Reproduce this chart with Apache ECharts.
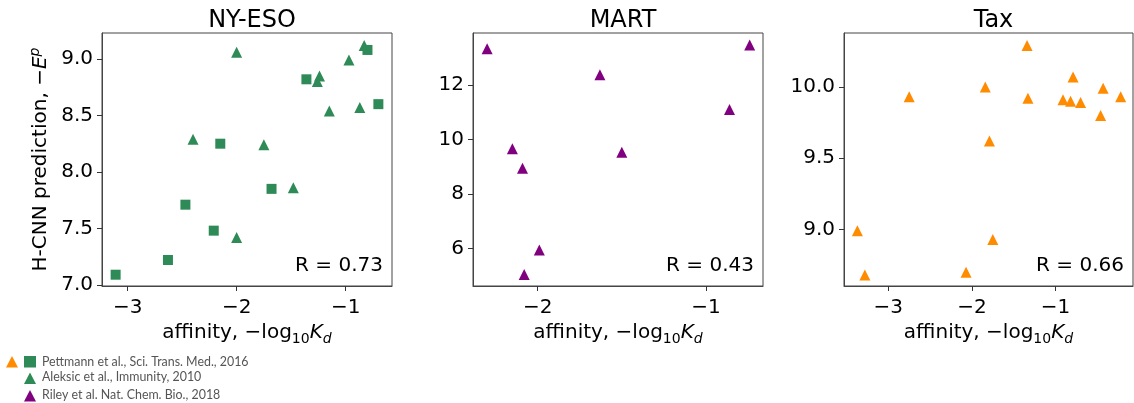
<!DOCTYPE html>
<html>
<head>
<meta charset="utf-8">
<script src="https://cdn.jsdelivr.net/npm/echarts@6/dist/echarts.min.js"></script>
<style>html,body{margin:0;padding:0;background:#fff}#c{width:1134px;height:403px}</style>
</head>
<body>
<div id="c"></div>
<script>
// ---- data ----
const titles = ['NY-ESO', 'MART', 'Tax'];
const rLabels = ['R = 0.73', 'R = 0.43', 'R = 0.66'];

const nyesoSqX  = [-3.11, -2.63, -2.47, -2.21, -2.15, -1.68, -1.36, -0.80, -0.70];
const nyesoSqY  = [7.09, 7.22, 7.71, 7.48, 8.25, 7.85, 8.82, 9.08, 8.60];
const nyesoTriX = [-2.00, -2.40, -1.75, -1.48, -2.00, -1.26, -1.24, -1.15, -0.97, -0.87, -0.83];
const nyesoTriY = [9.06, 8.29, 8.24, 7.86, 7.42, 8.80, 8.85, 8.54, 8.99, 8.57, 9.12];

const martX = [-2.30, -2.15, -2.09, -1.99, -2.08, -1.63, -1.50, -0.86, -0.74];
const martY = [13.32, 9.66, 8.94, 5.95, 5.05, 12.37, 9.53, 11.10, 13.46];

const taxX = [-3.37, -3.28, -2.75, -2.07, -1.84, -1.79, -1.75, -1.34, -1.33, -0.91, -0.82, -0.79, -0.70, -0.46, -0.43, -0.22];
const taxY = [8.99, 8.68, 9.93, 8.70, 10.00, 9.62, 8.93, 10.29, 9.92, 9.91, 9.90, 10.07, 9.89, 9.80, 9.99, 9.93];

const xTicks1 = [-3, -2, -1];
const xTicks2 = [-2, -1];
const xTicks3 = [-3, -2, -1];
const yTicks1 = [7.0, 7.5, 8.0, 8.5, 9.0];
const yTicks2 = [6, 8, 10, 12];
const yTicks3 = [9.0, 9.5, 10.0];

const legendLabels = ['Pettmann et al., Sci. Trans. Med., 2016', 'Aleksic et al., Immunity, 2010', 'Riley et al. Nat. Chem. Bio., 2018'];

const GREEN = '#2e8b57', PURPLE = '#800080', ORANGE = '#ff8c00';
const FONT = 'DejaVu Sans';

function zip(a, b) { return a.map((v, i) => [v, b[i]]); }

const grids = [
  { left: 102, top: 33, width: 290, height: 253 },
  { left: 473, top: 33, width: 290, height: 253 },
  { left: 844, top: 33, width: 289, height: 253 }
];
const xRanges = [[-3.235, -0.575], [-2.384, -0.661], [-3.53, -0.073]];
const yRanges = [[6.99, 9.23], [4.63, 13.90], [8.603, 10.378]];
const xTickSets = [xTicks1, xTicks2, xTicks3];
const yTickSets = [yTicks1, yTicks2, yTicks3];
const yDec = [1, 0, 1];

const minus = s => String(s).replace('-', '\u2212');

const xName = '{a|affinity, \u2212log}{sub|10}{i|K}{isub|d}';
const yName = '{a|H-CNN prediction, \u2212}{i|E}{sup|p}';
const richX = {
  a: { fontSize: 20, lineHeight: 26, fontFamily: FONT, color: '#000' },
  i: { fontSize: 20, lineHeight: 26, fontStyle: 'italic', fontFamily: FONT, color: '#000' },
  sub: { fontSize: 14, lineHeight: 14, verticalAlign: 'bottom', fontFamily: FONT, color: '#000' },
  isub: { fontSize: 14, lineHeight: 14, verticalAlign: 'bottom', fontStyle: 'italic', fontFamily: FONT, color: '#000' }
};
const richY = {
  a: { fontSize: 20, lineHeight: 26, fontFamily: FONT, color: '#000' },
  i: { fontSize: 20, lineHeight: 26, fontStyle: 'italic', fontFamily: FONT, color: '#000' },
  sup: { fontSize: 14, lineHeight: 14, verticalAlign: 'top', fontStyle: 'italic', fontFamily: FONT, color: '#000' }
};

const option = {
  animation: false,
  backgroundColor: '#fff',
  title: titles.map((t, i) => ({
    text: t,
    left: grids[i].left + grids[i].width / 2,
    textAlign: 'center',
    top: 4,
    textStyle: { fontSize: 24, fontWeight: 'normal', fontFamily: FONT, color: '#000' }
  })),
  grid: grids.map(g => Object.assign({ show: true, borderColor: '#444', borderWidth: 1, backgroundColor: 'transparent', outerBoundsMode: 'none' }, g)),
  xAxis: grids.map((g, i) => ({
    type: 'value', gridIndex: i,
    min: xRanges[i][0], max: xRanges[i][1],
    splitLine: { show: false },
    axisLine: { show: true, onZero: false, lineStyle: { color: '#444' } },
    axisTick: { show: true, length: 5, lineStyle: { color: '#333' }, customValues: xTickSets[i] },
    axisLabel: { customValues: xTickSets[i], formatter: v => minus(Math.round(v)), fontSize: 20, fontFamily: FONT, color: '#000', margin: 12 },
    name: xName, nameLocation: 'middle', nameGap: 34,
    nameTextStyle: { rich: richX }
  })),
  yAxis: grids.map((g, i) => ({
    type: 'value', gridIndex: i,
    min: yRanges[i][0], max: yRanges[i][1],
    splitLine: { show: false },
    axisLine: { show: true, onZero: false, lineStyle: { color: '#444' } },
    axisTick: { show: true, length: 5, lineStyle: { color: '#333' }, customValues: yTickSets[i] },
    axisLabel: { customValues: yTickSets[i], formatter: v => Number(v).toFixed(yDec[i]), fontSize: 20, fontFamily: FONT, color: '#000', margin: 9 },
    name: i === 0 ? yName : '', nameLocation: 'middle', nameRotate: 90, nameGap: 48,
    nameTextStyle: { rich: richY }
  })),
  series: [
    { type: 'scatter', xAxisIndex: 0, yAxisIndex: 0, symbol: 'triangle', symbolSize: 11, itemStyle: { color: GREEN, opacity: 1 }, data: zip(nyesoTriX, nyesoTriY) },
    { type: 'scatter', xAxisIndex: 0, yAxisIndex: 0, symbol: 'rect', symbolSize: 10, itemStyle: { color: GREEN, opacity: 1 }, data: zip(nyesoSqX, nyesoSqY) },
    { type: 'scatter', xAxisIndex: 1, yAxisIndex: 1, symbol: 'triangle', symbolSize: 11, itemStyle: { color: PURPLE, opacity: 1 }, data: zip(martX, martY) },
    { type: 'scatter', xAxisIndex: 2, yAxisIndex: 2, symbol: 'triangle', symbolSize: 11, itemStyle: { color: ORANGE, opacity: 1 }, data: zip(taxX, taxY) }
  ],
  graphic: [
    ...rLabels.map((t, i) => ({
      type: 'text',
      x: grids[i].left + grids[i].width - 9, y: 266,
      style: { text: t, align: 'right', verticalAlign: 'middle', fontSize: 20, fontFamily: FONT, fill: '#000' }
    })),
    { type: 'polygon', shape: { points: [[12, 356], [6, 367.5], [18, 367.5]] }, style: { fill: ORANGE } },
    { type: 'rect', shape: { x: 24, y: 356, width: 12, height: 11.5 }, style: { fill: GREEN } },
    { type: 'polygon', shape: { points: [[30, 372.5], [24, 384], [36, 384]] }, style: { fill: GREEN } },
    { type: 'polygon', shape: { points: [[30, 390], [24, 401.5], [36, 401.5]] }, style: { fill: PURPLE } },
    ...legendLabels.map((t, i) => ({
      type: 'text', x: 42, y: [362, 377, 395][i],
      style: { text: t, verticalAlign: 'middle', fontSize: 12.4, fontFamily: 'Lato', fill: '#555' }
    }))
  ]
};

const chart = echarts.init(document.getElementById('c'), null, { renderer: 'canvas' });
chart.setOption(option);
</script>
</body>
</html>
